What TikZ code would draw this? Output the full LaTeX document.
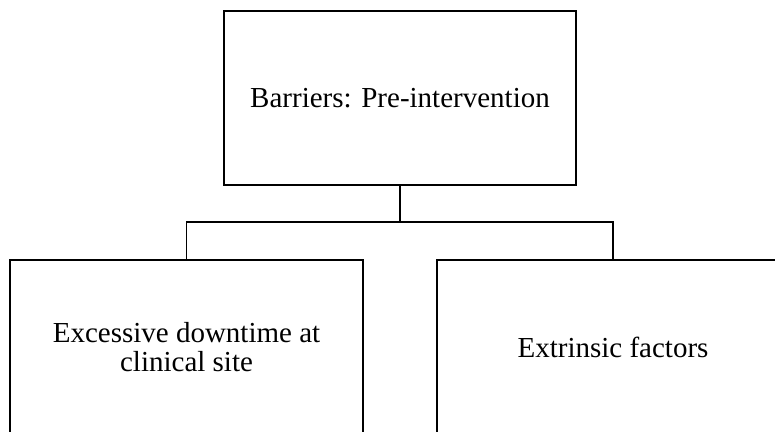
\documentclass[tikz,border=0pt]{standalone}
\usepackage{fontspec}
\setmainfont{Liberation Serif}
\begin{document}
\begin{tikzpicture}[x=1pt,y=1pt,
  box/.style={draw=black, line width=1.8pt, rectangle, inner sep=0pt, outer sep=0pt,
    minimum width=352pt, minimum height=174pt, align=center,
    font=\fontsize{29}{29.5}\selectfont},
  link/.style={draw=black, line width=1.8pt}]
\useasboundingbox (0,0) rectangle (775,431);
\clip (0,0) rectangle (775,431);
% root box and its two children
\node[box] (top) at (400,333) {Barriers: Pre-intervention};
\node[box, minimum width=353pt] (left) at (186.5,84) {Excessive downtime at\\clinical site};
\node[box] (right) at (613,84) {Extrinsic factors};
% elbow connectors through a shared junction
\coordinate (j) at (400,209);
\draw[link] (top.south) -- (j);
\draw[link] (left.north) |- (j) -| (right.north);
\end{tikzpicture}
\end{document}
